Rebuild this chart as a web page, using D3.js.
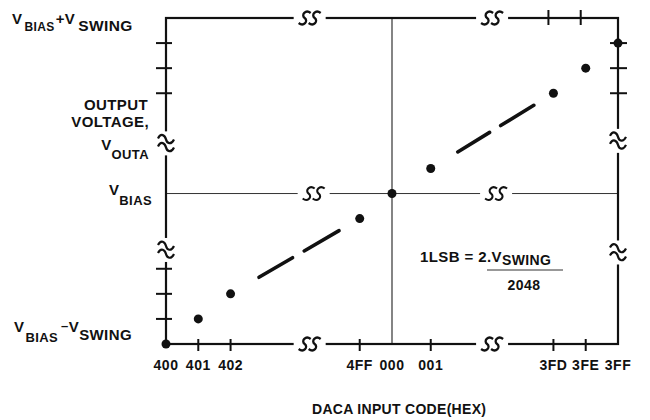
<!DOCTYPE html>
<html>
<head>
<meta charset="utf-8">
<script src="https://cdn.jsdelivr.net/npm/d3@7"></script>
<style>
  body { margin: 0; background: #fff; }
  svg text { font-family: "Liberation Sans", Arial, sans-serif; font-weight: bold; fill: #111; }
</style>
</head>
<body>
<div id="chart"></div>
<script>
// DAC transfer: input code (hex) vs output level
const codes = ["400", "401", "402", "4FF", "000", "001", "3FD", "3FE", "3FF"];
// place of each code on the broken x axis
const codeSlot = [0, 1, 2, 6, 7, 8.2, 12, 13, 14];
// output level in LSB steps above VBIAS-VSWING (broken axis)
const levelSlot = [0, 1, 2, 5, 6, 7, 10, 11, 12];
const tickCodes = ["401", "402", "4FF", "001", "3FD", "3FE"];
const topTickCodes = ["3FD", "3FE"];
const leftTicks = [1, 2, 3, 10, 11, 12];
const rightTicks = [10, 11, 12];
const xBreaks = [4.45, 10.1];
const leftBreaks = [3.75, 8.0];
const rightBreaks = [3.65, 8.1];
// pairs of codes joined by a dashed run (codes skipped)
const dashedRuns = [["402", "4FF"], ["001", "3FD"]];
const dashParts = [[0.22, 0.48], [0.57, 0.84]];

const width = 650, height = 420;
const margin = { top: 18, right: 32, bottom: 76, left: 166 };

const svg = d3.select('#chart').append('svg')
  .attr('width', width)
  .attr('height', height);

const x = d3.scaleLinear()
  .domain([0, 14])
  .range([margin.left, width - margin.right]);
const y = d3.scaleLinear()
  .domain([0, 13])
  .range([height - margin.bottom, margin.top]);

const x0 = x(0), x1 = x(14), y0 = y(0), y1 = y(13);
const slotOf = (c) => codeSlot[codes.indexOf(c)];
const levelOf = (c) => levelSlot[codes.indexOf(c)];
const biasY = y(levelOf("000"));
const zeroX = x(slotOf("000"));

// thin reference lines through VBIAS and code 000
svg.append('line')
  .attr('x1', x0).attr('x2', x1)
  .attr('y1', biasY).attr('y2', biasY)
  .attr('stroke', '#333').attr('stroke-width', 1);
svg.append('line')
  .attr('x1', zeroX).attr('x2', zeroX)
  .attr('y1', y1).attr('y2', y0)
  .attr('stroke', '#333').attr('stroke-width', 1.2);

// frame
svg.append('rect')
  .attr('x', x0).attr('y', y1)
  .attr('width', x1 - x0).attr('height', y0 - y1)
  .attr('fill', 'none')
  .attr('stroke', '#111')
  .attr('stroke-width', 2.2);

// ticks
const tickG = svg.append('g').attr('stroke', '#111').attr('stroke-width', 2);
tickG.selectAll('.lt').data(leftTicks).enter().append('line')
  .attr('x1', x0 - 10).attr('x2', x0 + 6)
  .attr('y1', (d) => y(d)).attr('y2', (d) => y(d));
tickG.selectAll('.rt').data(rightTicks).enter().append('line')
  .attr('x1', x1 - 8).attr('x2', x1 + 9)
  .attr('y1', (d) => y(d)).attr('y2', (d) => y(d));
tickG.selectAll('.bt').data(tickCodes).enter().append('line')
  .attr('x1', (d) => x(slotOf(d))).attr('x2', (d) => x(slotOf(d)))
  .attr('y1', y0 - 5).attr('y2', y0 + 7);
tickG.selectAll('.tt').data(topTickCodes).enter().append('line')
  .attr('x1', (d) => x(slotOf(d)) - 5).attr('x2', (d) => x(slotOf(d)) - 5)
  .attr('y1', y1 - 8).attr('y2', y1 + 7);

// break marks on horizontal lines ("SS")
const sPath = (dx) => `M${dx - 6},5 C${dx - 1},9 ${dx + 4},3 ${dx},0 C${dx - 4},-3 ${dx + 1},-9 ${dx + 6},-5`;
function hBreak(cx, cy, w) {
  const g = svg.append('g').attr('transform', `translate(${cx},${cy})`);
  g.append('rect').attr('x', -16).attr('y', -4).attr('width', 32).attr('height', 8).attr('fill', '#fff');
  [-5, 5].forEach((dx) => {
    g.append('path').attr('d', sPath(dx))
      .attr('fill', 'none').attr('stroke', '#111').attr('stroke-width', w);
  });
}
xBreaks.forEach((b) => {
  hBreak(x(b), y1, 2.3);
  hBreak(x(b), y0, 2.3);
  hBreak(x(b) + 4, biasY, 2.1);
});

// break marks on vertical lines (wavy)
const wPath = (dy) => `M-8,${dy - 1} C-5,${dy - 7} -1,${dy - 4} 0,${dy} S5,${dy + 6} 8,${dy}`;
function vBreak(cx, cy) {
  const g = svg.append('g').attr('transform', `translate(${cx},${cy})`);
  g.append('rect').attr('x', -4).attr('y', -12).attr('width', 8).attr('height', 24).attr('fill', '#fff');
  [-4, 4].forEach((dy) => {
    g.append('path').attr('d', wPath(dy))
      .attr('fill', 'none').attr('stroke', '#111').attr('stroke-width', 2.2);
  });
}
leftBreaks.forEach((b) => vBreak(x0, y(b)));
rightBreaks.forEach((b) => vBreak(x1, y(b)));

// dashed runs between codes
dashedRuns.forEach(([a, b]) => {
  const ax = x(slotOf(a)), ay = y(levelOf(a));
  const bx = x(slotOf(b)), by = y(levelOf(b));
  dashParts.forEach(([t0, t1]) => {
    svg.append('line')
      .attr('x1', ax + (bx - ax) * t0).attr('y1', ay + (by - ay) * t0)
      .attr('x2', ax + (bx - ax) * t1).attr('y2', ay + (by - ay) * t1)
      .attr('stroke', '#111').attr('stroke-width', 3.6)
      .attr('stroke-linecap', 'round');
  });
});

// output points
svg.selectAll('.pt')
  .data(codes)
  .enter()
  .append('circle')
  .attr('cx', (d, i) => x(codeSlot[i]))
  .attr('cy', (d, i) => y(levelSlot[i]))
  .attr('r', 4.5)
  .attr('fill', '#111');

// x tick labels
svg.selectAll('.xl')
  .data(codes)
  .enter()
  .append('text')
  .attr('x', (d, i) => x(codeSlot[i]))
  .attr('y', y0 + 26)
  .attr('text-anchor', 'middle')
  .style('font-size', '14px')
  .style('letter-spacing', '0.5px')
  .text((d) => d);

svg.append('text')
  .attr('x', 312).attr('y', 414)
  .style('font-size', '14px')
  .style('letter-spacing', '0.3px')
  .text('DACA INPUT CODE(HEX)');

// y axis labels
function subLabel(tx, ty, parts, anchor) {
  const t = svg.append('text').attr('x', tx).attr('y', ty)
    .attr('text-anchor', anchor || 'start')
    .style('letter-spacing', '0.4px');
  parts.forEach(([s, size, dy, dx]) => {
    t.append('tspan').attr('dy', dy).attr('dx', dx || 0).style('font-size', size + 'px').text(s);
  });
  return t;
}
subLabel(12, 24, [["V", 15, 0], ["BIAS", 12, 7, 2], ["+V", 15, -7, 1], ["SWING", 15.5, 7, 3]]);
subLabel(148, 110, [["OUTPUT", 15, 0]], 'end');
subLabel(149, 127, [["VOLTAGE,", 15, 0]], 'end');
subLabel(149, 150, [["V", 15, 0], ["OUTA", 13, 9]], 'end');
subLabel(152, 195, [["V", 15, 0], ["BIAS", 13, 10]], 'end');
subLabel(14, 332, [["V", 15, 0], ["BIAS", 13, 10, 1], ["\u2013", 13, -12, 3], ["V", 15, 2, 0], ["SWING", 15, 8]]);

// LSB formula
subLabel(420, 262, [["1LSB = 2.V", 15, 0], ["SWING", 14, 3]]);
svg.append('line')
  .attr('x1', 487).attr('x2', 563)
  .attr('y1', 270).attr('y2', 270)
  .attr('stroke', '#333').attr('stroke-width', 1);
svg.append('text')
  .attr('x', 524).attr('y', 290)
  .attr('text-anchor', 'middle')
  .style('font-size', '14px')
  .style('letter-spacing', '0.5px')
  .text('2048');
</script>
</body>
</html>
